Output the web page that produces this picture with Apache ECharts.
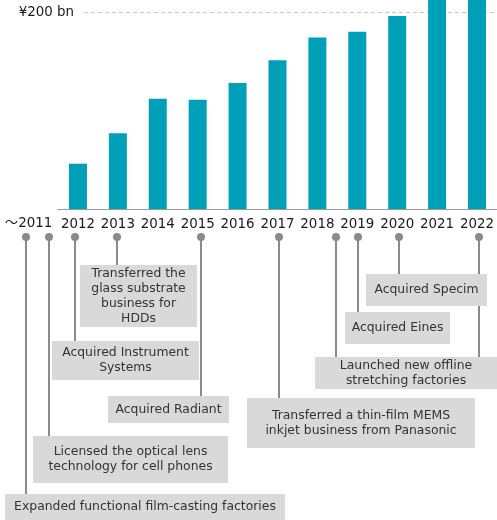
<!DOCTYPE html>
<html><head><meta charset="utf-8">
<script src="https://cdn.jsdelivr.net/npm/echarts@6/dist/echarts.min.js"></script>
<style>html,body{margin:0;padding:0;background:#fff}#c{width:497px;height:520px}</style>
</head><body><div id="c"></div>
<script>
// ---- data ----
const years = ['2012','2013','2014','2015','2016','2017','2018','2019','2020','2021','2022'];
const sales = [46, 77, 112, 111, 128, 151, 174, 180, 196, 226, 245];
const yTickValue = 200;
const yTickLabel = '¥200 bn';
const startLabel = '〜2011';
const eventYears = ['~2011','~2011','2012','2013','2015','2017','2018/2022','2019','2020'];
const eventTexts = [
  'Expanded functional film-casting factories',
  'Licensed the optical lens\ntechnology for cell phones',
  'Acquired Instrument\nSystems',
  'Transferred the\nglass substrate\nbusiness for\nHDDs',
  'Acquired Radiant',
  'Transferred a thin-film MEMS\ninkjet business from Panasonic',
  'Launched new offline\nstretching factories',
  'Acquired Eines',
  'Acquired Specim'
];

// ---- layout (annotation placement) ----
const FONT = '"DejaVu Sans", Verdana, "Noto Sans CJK JP", sans-serif';
const pinTopY = 237;
const pinXs = [[26],[49],[75],[117],[201],[279],[336,479],[358],[399]];
const boxRects = [
  [5,494,280,26],
  [33,436,195,47],
  [52,341,147,39],
  [80,265,117,62],
  [108,396,121,27],
  [247,398,228,50],
  [315,357,182,32],
  [345,312,105,32],
  [366,274,121,32]
];
const yMax = 212.2;

const graphic = [];
pinXs.forEach((xs, i) => {
  const r = boxRects[i];
  xs.forEach(x => {
    graphic.push({type:'line', z:100, shape:{x1:x, y1:pinTopY, x2:x, y2:r[1]}, style:{stroke:'#8a8a8a', lineWidth:2}});
    graphic.push({type:'circle', z:101, shape:{cx:x, cy:pinTopY, r:4}, style:{fill:'#8a8a8a'}});
  });
});
boxRects.forEach((r, i) => {
  graphic.push({type:'rect', z:102, shape:{x:r[0], y:r[1], width:r[2], height:r[3]}, style:{fill:'#d9d9d9'}});
  graphic.push({type:'text', z:103, x:r[0]+r[2]/2, y:r[1]+r[3]/2,
    style:{text:eventTexts[i], fill:'#333333', font:'12.4px ' + FONT, align:'center', verticalAlign:'middle', lineHeight:15}});
});
graphic.push({type:'text', z:103, x:28.5, y:224,
  style:{text:startLabel, fill:'#1a1a1a', font:'13.4px ' + FONT, align:'center', verticalAlign:'middle'}});

const chart = echarts.init(document.getElementById('c'), null, {renderer:'canvas'});
chart.setOption({
  animation:false,
  backgroundColor:'#fff',
  textStyle:{fontFamily:FONT},
  grid:[
    {left:58, right:-1, top:0, bottom:311},
    {left:84, right:0, top:0, bottom:311}
  ],
  xAxis:[
    {type:'category', gridIndex:0, data:years,
     axisLine:{show:true, lineStyle:{color:'#9a9a9a', width:1}},
     axisTick:{show:false},
     axisLabel:{color:'#1a1a1a', fontSize:13.4, fontFamily:FONT, margin:9, interval:0}},
    {type:'value', gridIndex:1, show:false, min:0, max:1}
  ],
  yAxis:[
    {type:'value', gridIndex:0, min:0, max:yMax, show:false, splitLine:{show:false}},
    {type:'value', gridIndex:1, min:0, max:yMax, interval:yTickValue,
     axisLine:{show:false}, axisTick:{show:false},
     axisLabel:{color:'#1a1a1a', fontSize:13.4, fontFamily:FONT, margin:10,
       formatter: v => (v === yTickValue ? yTickLabel : '')},
     splitLine:{show:true, lineStyle:{color:['rgba(0,0,0,0)','#c8c8c8','rgba(0,0,0,0)'], type:[4,3], width:1}}}
  ],
  series:[{
    type:'bar', xAxisIndex:0, yAxisIndex:0, data:sales, barWidth:18,
    itemStyle:{color:'#00a0b8'}
  }],
  graphic: graphic
});
</script></body></html>
